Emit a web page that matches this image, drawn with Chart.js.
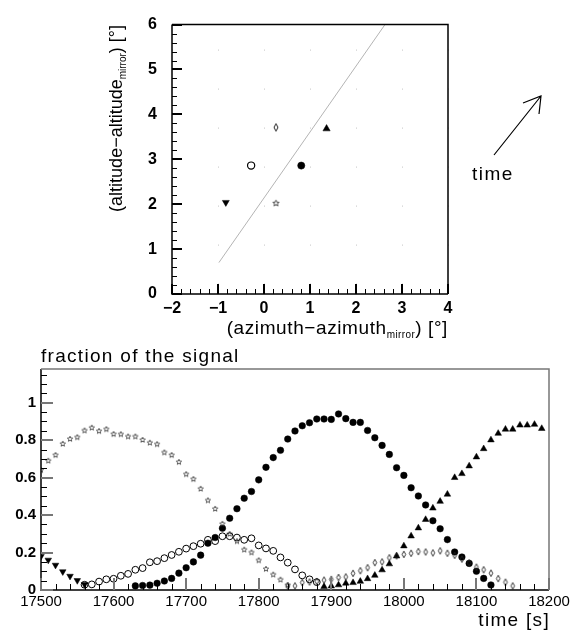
<!DOCTYPE html>
<html>
<head>
<meta charset="utf-8">
<script src="https://cdn.jsdelivr.net/npm/chart.js@4.4.1/dist/chart.umd.min.js"></script>
<style>
  body { margin: 0; background: #fff; }
  #top { position: absolute; left: 0; top: 0; }
  #bottom { position: absolute; left: 0; top: 340px; }
</style>
</head>
<body>
<canvas id="top" width="574" height="340"></canvas>
<canvas id="bottom" width="574" height="291"></canvas>
<script>
const FONT = "'Liberation Sans', Arial, sans-serif";

// ---- top panel: pointing offsets of the six pixels ----
const azOff  = [-0.83, -0.28, 0.26, 0.26, 0.81, 1.36];
const altOff = [2.04, 2.86, 3.71, 2.02, 2.86, 3.68];
const trackAz  = [-0.98, 2.63];
const trackAlt = [0.70, 6.0];
const topXTicks = [-2, -1, 0, 1, 2, 3, 4];
const topYTicks = [0, 1, 2, 3, 4, 5, 6];

// ---- bottom panel: fraction of the signal vs time ----
const timeS = [17500, 17510, 17520, 17530, 17540, 17550, 17560, 17570, 17580, 17590,
  17600, 17610, 17620, 17630, 17640, 17650, 17660, 17670, 17680, 17690,
  17700, 17710, 17720, 17730, 17740, 17750, 17760, 17770, 17780, 17790,
  17800, 17810, 17820, 17830, 17840, 17850, 17860, 17870, 17880, 17890,
  17900, 17910, 17920, 17930, 17940, 17950, 17960, 17970, 17980, 17990,
  18000, 18010, 18020, 18030, 18040, 18050, 18060, 18070, 18080, 18090,
  18100, 18110, 18120, 18130, 18140, 18150, 18160, 18170, 18180, 18190, 18200];
const timeTicks = [17500, 17600, 17700, 17800, 17900, 18000, 18100, 18200];
const fracTicks = [0, 0.2, 0.4, 0.6, 0.8, 1];

const startDown = 17500;
const fracDown = [0.18, 0.16, 0.133, 0.098, 0.074, 0.051, 0.03];

const startStar = 17500;
const fracStar = [0.64, 0.69, 0.72, 0.78, 0.806, 0.815, 0.851, 0.866, 0.848, 0.858,
  0.832, 0.831, 0.819, 0.819, 0.801, 0.786, 0.778, 0.734, 0.72, 0.683,
  0.618, 0.592, 0.54, 0.478, 0.433, 0.353, 0.299, 0.26, 0.215, 0.2,
  0.158, 0.112, 0.082, 0.055, 0.026];

const startOpen = 17560;
const fracOpen = [0.028, 0.03, 0.045, 0.057, 0.06, 0.076, 0.086, 0.108, 0.117, 0.148,
  0.154, 0.17, 0.187, 0.204, 0.221, 0.234, 0.247, 0.268, 0.261, 0.287,
  0.287, 0.28, 0.268, 0.276, 0.238, 0.222, 0.209, 0.174, 0.146, 0.11,
  0.078, 0.057, 0.042];

const startFull = 17630;
const fracFull = [0.022, 0.024, 0.026, 0.036, 0.048, 0.062, 0.09, 0.119, 0.15, 0.186,
  0.25, 0.28, 0.33, 0.383, 0.434, 0.49, 0.526, 0.588, 0.655, 0.707,
  0.746, 0.806, 0.849, 0.877, 0.893, 0.913, 0.913, 0.911, 0.94, 0.915,
  0.895, 0.895, 0.852, 0.813, 0.772, 0.724, 0.653, 0.612, 0.546, 0.502,
  0.454, 0.37, 0.327, 0.269, 0.203, 0.176, 0.142, 0.1, 0.062, 0.027];

const startDiam = 17840;
const fracDiam = [0.022, 0.022, 0.04, 0.043, 0.046, 0.053, 0.057, 0.067, 0.07, 0.089,
  0.103, 0.119, 0.146, 0.15, 0.172, 0.182, 0.19, 0.196, 0.205, 0.203,
  0.198, 0.209, 0.196, 0.185, 0.165, 0.145, 0.122, 0.108, 0.09, 0.061,
  0.042, 0.022];

const startUp = 17890;
const fracUp = [0.018, 0.021, 0.027, 0.036, 0.039, 0.046, 0.06, 0.078, 0.107, 0.139,
  0.181, 0.235, 0.288, 0.331, 0.376, 0.437, 0.473, 0.511, 0.6, 0.621,
  0.662, 0.71, 0.754, 0.801, 0.836, 0.858, 0.858, 0.88, 0.88, 0.884, 0.862];

function pts(start, vals) {
  const i0 = timeS.indexOf(start);
  return vals.map((v, i) => ({ x: timeS[i0 + i], y: v }));
}

// open marker shapes as small canvases
function starImg(r, color, lw) {
  const s = Math.ceil(2 * r + 2 * lw + 2);
  const c = document.createElement('canvas');
  c.width = s; c.height = s;
  const g = c.getContext('2d');
  g.strokeStyle = color; g.lineWidth = lw;
  g.beginPath();
  for (let k = 0; k < 10; k++) {
    const rr = k % 2 ? r * 0.45 : r;
    const ang = -Math.PI / 2 + k * Math.PI / 5;
    const px = s / 2 + rr * Math.cos(ang), py = s / 2 + rr * Math.sin(ang);
    if (k) g.lineTo(px, py); else g.moveTo(px, py);
  }
  g.closePath();
  g.stroke();
  return c;
}
function diamondImg(w, h, color, lw) {
  const cw = Math.ceil(w + 2 * lw + 2), chh = Math.ceil(h + 2 * lw + 2);
  const c = document.createElement('canvas');
  c.width = cw; c.height = chh;
  const g = c.getContext('2d');
  g.strokeStyle = color; g.lineWidth = lw;
  g.beginPath();
  g.moveTo(cw / 2, chh / 2 - h / 2);
  g.lineTo(cw / 2 + w / 2, chh / 2);
  g.lineTo(cw / 2, chh / 2 + h / 2);
  g.lineTo(cw / 2 - w / 2, chh / 2);
  g.closePath();
  g.stroke();
  return c;
}

// frame plus inward ticks, ROOT style
function drawFrameTicks(chart, o) {
  const ctx = chart.ctx;
  const a = chart.chartArea;
  const x = chart.scales.x, y = chart.scales.y;
  ctx.save();
  ctx.setLineDash([]);
  ctx.globalAlpha = 1;
  ctx.lineWidth = o.frameWidth;
  ctx.strokeStyle = '#000';
  ctx.beginPath();
  ctx.moveTo(a.left, a.top);
  ctx.lineTo(a.left, a.bottom);
  ctx.lineTo(a.right, a.bottom);
  ctx.stroke();
  ctx.strokeStyle = o.farColor;
  ctx.beginPath();
  ctx.moveTo(a.left, a.top);
  ctx.lineTo(a.right, a.top);
  ctx.lineTo(a.right, a.bottom);
  ctx.stroke();
  const nx = Math.round((o.xMax - o.xMin) / o.xMinor);
  for (let i = 0; i <= nx; i++) {
    const v = o.xMin + i * o.xMinor;
    const major = o.xMajors.some(m => Math.abs(m - v) < 1e-6);
    const px = Math.round(x.getPixelForValue(v));
    const len = major ? o.xMajorLen : o.xMinorLen;
    const w = major ? o.majorWidth : 1;
    ctx.fillStyle = major ? o.majorColor : 'rgb(0,0,0)';
    ctx.fillRect(px - Math.floor(w / 2), Math.round(a.bottom) - len, w, len);
  }
  const ny = Math.floor((o.yMax - o.yMin) / o.yMinor + 1e-6);
  for (let i = 0; i <= ny; i++) {
    const v = o.yMin + i * o.yMinor;
    const major = o.yMajors.some(m => Math.abs(m - v) < 1e-6);
    const py = Math.round(y.getPixelForValue(v));
    const len = major ? o.yMajorLen : o.yMinorLen;
    const w = major ? o.majorWidth : 1;
    ctx.fillStyle = major ? o.majorColor : 'rgb(0,0,0)';
    ctx.fillRect(Math.round(a.left), py - Math.floor(w / 2), len, w);
  }
  ctx.restore();
}

// text pieces with subscripts, aligned so that the text ends at (0,0)
function drawParts(ctx, parts) {
  let w = 0;
  parts.forEach(p => {
    ctx.font = p.font;
    ctx.letterSpacing = p.sp || '0px';
    w += ctx.measureText(p.t).width;
  });
  let cx = -w;
  ctx.textAlign = 'left';
  ctx.textBaseline = 'alphabetic';
  parts.forEach(p => {
    ctx.font = p.font;
    ctx.letterSpacing = p.sp || '0px';
    ctx.fillText(p.t, cx, p.dy || 0);
    cx += ctx.measureText(p.t).width;
  });
  ctx.letterSpacing = '0px';
}

const topDecor = {
  id: 'topDecor',
  afterDraw(chart) {
    const ctx = chart.ctx;
    const small = '10px ' + FONT;
    ctx.save();
    ctx.setLineDash([]);
    ctx.fillStyle = '#000';
    // x title
    ctx.save();
    ctx.translate(448, 334);
    drawParts(ctx, [
      { t: '(azimuth\u2212azimuth', font: '19px ' + FONT, sp: '0.6px' },
      { t: 'mirror', font: small, dy: 4, sp: '0.4px' },
      { t: ') [\u00b0]', font: '19px ' + FONT, sp: '0.6px' }
    ]);
    ctx.restore();
    // y title
    ctx.save();
    ctx.translate(122, 25);
    ctx.rotate(-Math.PI / 2);
    drawParts(ctx, [
      { t: '(altitude\u2212altitude', font: '18px ' + FONT },
      { t: 'mirror', font: small, dy: 4 },
      { t: ') [\u00b0]', font: '18px ' + FONT }
    ]);
    ctx.restore();
    // time arrow
    ctx.strokeStyle = '#000';
    ctx.lineWidth = 1.2;
    ctx.beginPath();
    ctx.moveTo(494, 155);
    ctx.lineTo(541, 96);
    ctx.moveTo(523, 103);
    ctx.lineTo(541, 96);
    ctx.lineTo(539, 114);
    ctx.stroke();
    ctx.font = '19px ' + FONT;
    ctx.letterSpacing = '1.5px';
    ctx.textAlign = 'left';
    ctx.textBaseline = 'alphabetic';
    ctx.fillText('time', 472, 180);
    ctx.letterSpacing = '0px';
    ctx.restore();
    drawFrameTicks(chart, {
      xMin: -2, xMax: 4, xMinor: 0.2, xMajors: topXTicks,
      yMin: 0, yMax: 6, yMinor: 0.2, yMajors: topYTicks,
      xMajorLen: 10, xMinorLen: 5, yMajorLen: 10, yMinorLen: 5,
      majorColor: 'rgb(0,0,0)', majorWidth: 2, frameWidth: 1.5, farColor: '#000'
    });
  }
};

const bottomDecor = {
  id: 'bottomDecor',
  afterDraw(chart) {
    const ctx = chart.ctx;
    ctx.save();
    ctx.fillStyle = '#000';
    ctx.font = '19px ' + FONT;
    ctx.letterSpacing = '1.3px';
    ctx.textBaseline = 'alphabetic';
    ctx.textAlign = 'left';
    ctx.fillText('fraction of the signal', 41, 22);
    ctx.textAlign = 'right';
    ctx.fillText('time [s]', 550, 286);
    ctx.letterSpacing = '0px';
    ctx.restore();
    drawFrameTicks(chart, {
      xMin: 17500, xMax: 18200, xMinor: 20, xMajors: timeTicks,
      yMin: 0, yMax: 1.18, yMinor: 0.05, yMajors: fracTicks,
      xMajorLen: 12, xMinorLen: 6, yMajorLen: 12, yMinorLen: 6,
      majorColor: '#777', majorWidth: 2, frameWidth: 1.5, farColor: '#777'
    });
  }
};

function minusLabel(v) {
  return v < 0 ? '\u2212' + Math.abs(v) : String(v);
}

// ---- top chart ----
const topStar = starImg(3.2, '#333', 0.9);
const topDiam = diamondImg(4, 7.5, '#222', 1);

new Chart(document.getElementById('top'), {
  type: 'scatter',
  data: {
    datasets: [
      {
        data: trackAz.map((v, i) => ({ x: v, y: trackAlt[i] })),
        showLine: true, borderColor: '#b4b4b4', borderWidth: 1, pointRadius: 0
      },
      {
        data: [{ x: azOff[0], y: altOff[0] }],
        pointStyle: 'triangle', pointRotation: 180, pointRadius: 4,
        pointBackgroundColor: '#000', pointBorderColor: '#000', pointBorderWidth: 0.5
      },
      {
        data: [{ x: azOff[1], y: altOff[1] }],
        pointStyle: 'circle', pointRadius: 3.6,
        pointBackgroundColor: '#fff', pointBorderColor: '#000', pointBorderWidth: 1.2
      },
      {
        data: [{ x: azOff[2], y: altOff[2] }],
        pointStyle: topDiam
      },
      {
        data: [{ x: azOff[3], y: altOff[3] }],
        pointStyle: topStar
      },
      {
        data: [{ x: azOff[4], y: altOff[4] }],
        pointStyle: 'circle', pointRadius: 3.6,
        pointBackgroundColor: '#000', pointBorderColor: '#000', pointBorderWidth: 0.5
      },
      {
        data: [{ x: azOff[5], y: altOff[5] }],
        pointStyle: 'triangle', pointRadius: 4.2,
        pointBackgroundColor: '#000', pointBorderColor: '#000', pointBorderWidth: 0.5
      }
    ]
  },
  options: {
    responsive: false,
    animation: false,
    layout: { padding: { left: 0, top: 17, right: 126, bottom: 0 } },
    plugins: { legend: { display: false }, tooltip: { enabled: false } },
    scales: {
      x: {
        type: 'linear', min: -2, max: 4,
        afterBuildTicks: s => { s.ticks = topXTicks.map(v => ({ value: v })); },
        afterFit: s => { s.height = 46; },
        grid: { color: '#c4c4c4', lineWidth: 1, drawTicks: false, tickLength: 0 },
        border: { display: false, dash: [1, 38], dashOffset: 14 },
        ticks: { color: '#000', padding: 5, font: { family: FONT, size: 16, weight: 'bold' }, callback: minusLabel }
      },
      y: {
        type: 'linear', min: 0, max: 6,
        afterBuildTicks: s => { s.ticks = topYTicks.map(v => ({ value: v })); },
        afterFit: s => { s.width = 172; },
        grid: { display: false, drawTicks: false, tickLength: 0 },
        border: { display: false },
        ticks: { color: '#000', padding: 15, font: { family: FONT, size: 16, weight: 'bold' }, callback: minusLabel }
      }
    }
  },
  plugins: [topDecor]
});

// ---- bottom chart ----
const botStar = starImg(2.8, '#333', 0.8);
const botDiam = diamondImg(3.6, 6.6, '#222', 0.9);

new Chart(document.getElementById('bottom'), {
  type: 'scatter',
  data: {
    datasets: [
      {
        data: pts(startStar, fracStar), pointStyle: botStar
      },
      {
        data: pts(startDown, fracDown),
        pointStyle: 'triangle', pointRotation: 180, pointRadius: 3.8,
        pointBackgroundColor: '#000', pointBorderColor: '#000', pointBorderWidth: 0.5
      },
      {
        data: pts(startOpen, fracOpen),
        pointStyle: 'circle', pointRadius: 3.4,
        pointBackgroundColor: 'rgba(255,255,255,0)', pointBorderColor: '#000', pointBorderWidth: 1
      },
      {
        data: pts(startDiam, fracDiam), pointStyle: botDiam
      },
      {
        data: pts(startFull, fracFull),
        pointStyle: 'circle', pointRadius: 3.3,
        pointBackgroundColor: '#000', pointBorderColor: '#000', pointBorderWidth: 0.5
      },
      {
        data: pts(startUp, fracUp),
        pointStyle: 'triangle', pointRadius: 3.8,
        pointBackgroundColor: '#000', pointBorderColor: '#000', pointBorderWidth: 0.5
      }
    ]
  },
  options: {
    responsive: false,
    animation: false,
    layout: { padding: { left: 0, top: 29, right: 25, bottom: 0 } },
    plugins: { legend: { display: false }, tooltip: { enabled: false } },
    scales: {
      x: {
        type: 'linear', min: 17500, max: 18200,
        afterBuildTicks: s => { s.ticks = timeTicks.map(v => ({ value: v })); },
        afterFit: s => { s.height = 41; },
        grid: { display: false, drawTicks: false, tickLength: 0 },
        border: { display: false },
        ticks: { color: '#000', padding: 3, font: { family: FONT, size: 15 }, callback: v => String(v) }
      },
      y: {
        type: 'linear', min: 0, max: 1.18,
        afterBuildTicks: s => { s.ticks = fracTicks.map(v => ({ value: v })); },
        afterFit: s => { s.width = 41; },
        grid: { display: false, drawTicks: false, tickLength: 0 },
        border: { display: false },
        ticks: { color: '#000', padding: 5, font: { family: FONT, size: 15, weight: 'bold' }, callback: v => String(v) }
      }
    }
  },
  plugins: [bottomDecor]
});
</script>
</body>
</html>
